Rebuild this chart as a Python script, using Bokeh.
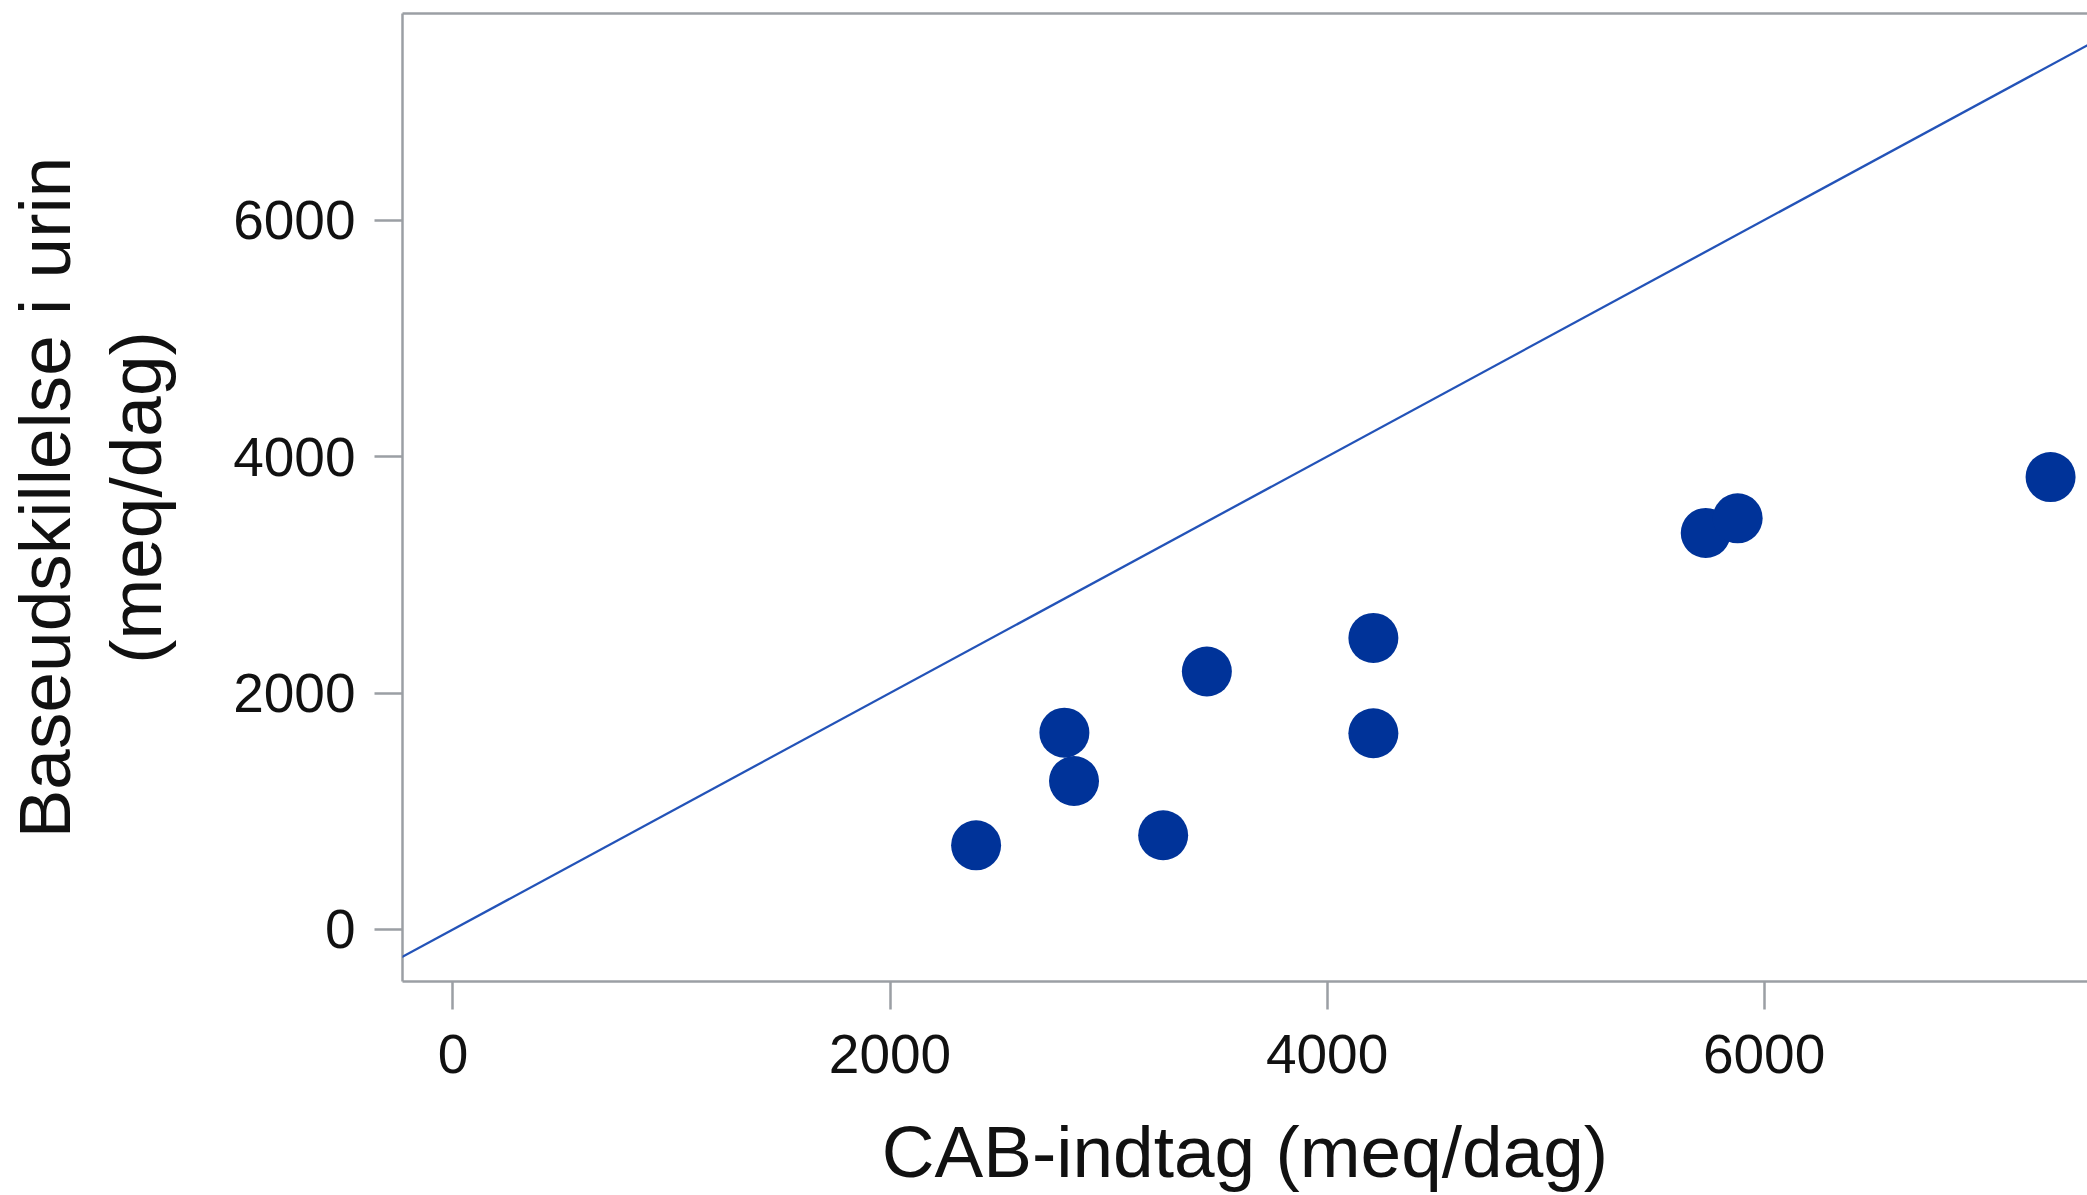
from bokeh.plotting import figure
from bokeh.models import Range1d, LinearAxis, FixedTicker, Slope
from bokeh.embed import file_html
from bokeh.resources import INLINE

# Data
cab_intake = [2394, 2798, 2842, 3250, 3450, 4212, 4212, 5733, 5879, 7311]
base_excretion = [712, 1665, 1256, 797, 2182, 2466, 1660, 3354, 3478, 3827]
x_ticks = [0, 2000, 4000, 6000]
y_ticks = [0, 2000, 4000, 6000]
x_title = "CAB-indtag (meq/dag)"
y_title = "Baseudskillelse i urin\n(meq/dag)"

AXIS_GREY = "#9b9fa4"
FONT = "Liberation Sans"

p = figure(width=2087, height=1195, output_backend="svg", toolbar_location=None,
           x_range=Range1d(-231, 7480), y_range=Range1d(-440, 7748))
p.min_border_left = 402
p.min_border_right = 0
p.min_border_top = 13
p.min_border_bottom = 214
p.outline_line_color = None
p.background_fill_color = "white"
p.border_fill_color = "white"
p.xgrid.visible = False
p.ygrid.visible = False

# identity line
p.add_layout(Slope(gradient=1, y_intercept=0, line_color="#2353b8", line_width=2.3))

p.scatter(cab_intake, base_excretion, size=50, fill_color="#003399",
          line_color="#003399", line_width=0)

for ax in (p.xaxis[0], p.yaxis[0]):
    ax.axis_line_color = AXIS_GREY
    ax.axis_line_width = 2.5
    ax.major_tick_line_color = AXIS_GREY
    ax.major_tick_line_width = 2.5
    ax.major_tick_out = 28
    ax.major_tick_in = 0
    ax.minor_tick_line_color = None
    ax.major_label_text_font = FONT
    ax.major_label_text_font_size = "55px"
    ax.major_label_text_color = "#111111"
    ax.axis_label_text_font = FONT
    ax.axis_label_text_font_size = "73px"
    ax.axis_label_text_font_style = "normal"
    ax.axis_label_text_color = "#111111"
    ax.axis_label_text_line_height = 1.12

p.xaxis[0].ticker = FixedTicker(ticks=x_ticks)
p.yaxis[0].ticker = FixedTicker(ticks=y_ticks)
p.xaxis[0].axis_label = x_title
p.yaxis[0].axis_label = y_title
p.xaxis[0].major_label_standoff = 25
p.yaxis[0].major_label_standoff = 19
p.xaxis[0].axis_label_standoff = 35
p.yaxis[0].axis_label_standoff = 54

top = LinearAxis(ticker=FixedTicker(ticks=[]), axis_line_color=AXIS_GREY,
                 axis_line_width=2.5, major_tick_line_color=None,
                 minor_tick_line_color=None, major_label_text_font_size="0px")
p.add_layout(top, "above")

open("out.html", "w").write(file_html(p, INLINE))
